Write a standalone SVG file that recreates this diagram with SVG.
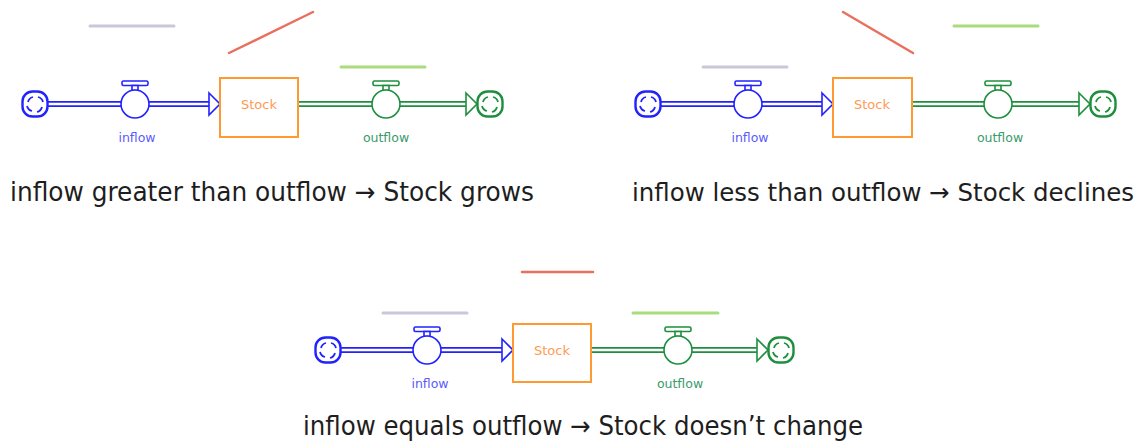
<svg xmlns="http://www.w3.org/2000/svg" xmlns:xlink="http://www.w3.org/1999/xlink" width="1147" height="441" viewBox="0 0 1147 441">
<style>
.bl{stroke:#2222ff;fill:#fff;stroke-width:1.6}
.gr{stroke:#1f8f3f;fill:#fff;stroke-width:1.6}
.pipeB{stroke:#2222ff;stroke-width:6;fill:none}
.pipeG{stroke:#1f8f3f;stroke-width:6;fill:none}
.pipeIn{stroke:#fff;stroke-width:2.4;fill:none}
.stock{fill:#fff;stroke:#ff9a30;stroke-width:2}
.stxt{font-family:"DejaVu Sans",sans-serif;font-size:13px;fill:#ff9a55;text-anchor:middle}
.lin{font-family:"DejaVu Sans",sans-serif;font-size:12.5px;fill:#5a5aff;text-anchor:middle}
.lout{font-family:"DejaVu Sans",sans-serif;font-size:12.5px;fill:#3a9a6a;text-anchor:middle}
.cap{font-family:"DejaVu Sans",sans-serif;font-size:26px;fill:#1e1e1e}
.gray{stroke:#c8c8da;stroke-width:3;stroke-linecap:round}
.red{stroke:#e8705e;stroke-width:2.5;stroke-linecap:round}
.green{stroke:#a8dc7c;stroke-width:3;stroke-linecap:round}
</style>
<defs>
<g id="cloud">
<rect x="-12.5" y="-12.5" width="25" height="25" rx="10" stroke-width="2.4"/>
<path d="M-7,-2 q1,-4 5,-5 M3,-7 q4,1 5,5 M7,3 q-1,4 -5,5 M-3,7 q-4,-1 -5,-5" fill="none" stroke-width="1.8"/>
</g>
<g id="valve">
<rect x="-13" y="-23" width="26" height="4.5" rx="1.5"/>
<rect x="-3" y="-18.5" width="6" height="5"/>
<circle r="14"/>
</g>
</defs>

<!-- Panel 1 -->
<g id="connectors-1">
<path class="pipeB" d="M47,104 H210"/>
<path class="pipeIn" d="M47,104 H212"/>
<path class="bl" d="M209,93 L220,104 L209,115 Z"/>
<path class="pipeG" d="M298,104 H467"/>
<path class="pipeIn" d="M298,104 H469"/>
<path class="gr" d="M466,93 L477,104 L466,115 Z"/>
<line class="gray" x1="90" y1="26" x2="174" y2="26"/>
<line class="red" x1="229" y1="53" x2="313" y2="12"/>
<line class="green" x1="341" y1="67" x2="425" y2="67"/>
</g>
<g id="source-1" class="bl"><use xlink:href="#cloud" x="35" y="104"/></g>
<g id="inflow-1"><g class="bl"><use xlink:href="#valve" x="135" y="104"/></g><text class="lin" x="137" y="142">inflow</text></g>
<g id="stock-1"><rect class="stock" x="220" y="78" width="78" height="59"/><text class="stxt" x="259" y="109">Stock</text></g>
<g id="outflow-1"><g class="gr"><use xlink:href="#valve" x="386" y="104"/></g><text class="lout" x="386" y="142">outflow</text></g>
<g id="sink-1" class="gr"><use xlink:href="#cloud" x="490" y="104"/></g>
<text id="caption-1" class="cap" x="10" y="201" textLength="524" lengthAdjust="spacingAndGlyphs">inflow greater than outflow → Stock grows</text>

<!-- Panel 2 -->
<g id="connectors-2">
<path class="pipeB" d="M660,104 H823"/>
<path class="pipeIn" d="M660,104 H825"/>
<path class="bl" d="M822,93 L833,104 L822,115 Z"/>
<path class="pipeG" d="M912,104 H1080"/>
<path class="pipeIn" d="M912,104 H1082"/>
<path class="gr" d="M1079,93 L1090,104 L1079,115 Z"/>
<line class="gray" x1="703" y1="67" x2="787" y2="67"/>
<line class="red" x1="843" y1="12" x2="913" y2="53"/>
<line class="green" x1="954" y1="26" x2="1038" y2="26"/>
</g>
<g id="source-2" class="bl"><use xlink:href="#cloud" x="648" y="104"/></g>
<g id="inflow-2"><g class="bl"><use xlink:href="#valve" x="748" y="104"/></g><text class="lin" x="750" y="142">inflow</text></g>
<g id="stock-2"><rect class="stock" x="833" y="78" width="79" height="59"/><text class="stxt" x="872" y="109">Stock</text></g>
<g id="outflow-2"><g class="gr"><use xlink:href="#valve" x="998" y="104"/></g><text class="lout" x="1000" y="142">outflow</text></g>
<g id="sink-2" class="gr"><use xlink:href="#cloud" x="1103" y="104"/></g>
<text id="caption-2" class="cap" x="632" y="201" font-size="24.5" style="font-size:24.5px" textLength="502" lengthAdjust="spacingAndGlyphs">inflow less than outflow → Stock declines</text>

<!-- Panel 3 -->
<g id="connectors-3">
<path class="pipeB" d="M340,350 H503"/>
<path class="pipeIn" d="M340,350 H505"/>
<path class="bl" d="M502,339 L513,350 L502,361 Z"/>
<path class="pipeG" d="M591,350 H758"/>
<path class="pipeIn" d="M591,350 H760"/>
<path class="gr" d="M757,339 L768,350 L757,361 Z"/>
<line class="gray" x1="383" y1="313" x2="467" y2="313"/>
<line class="red" x1="522" y1="272" x2="593" y2="272"/>
<line class="green" x1="633" y1="313" x2="718" y2="313"/>
</g>
<g id="source-3" class="bl"><use xlink:href="#cloud" x="328" y="350"/></g>
<g id="inflow-3"><g class="bl"><use xlink:href="#valve" x="427" y="350"/></g><text class="lin" x="430" y="388">inflow</text></g>
<g id="stock-3"><rect class="stock" x="513" y="324" width="78" height="58"/><text class="stxt" x="552" y="355">Stock</text></g>
<g id="outflow-3"><g class="gr"><use xlink:href="#valve" x="678" y="350"/></g><text class="lout" x="680" y="388">outflow</text></g>
<g id="sink-3" class="gr"><use xlink:href="#cloud" x="781" y="350"/></g>
<text id="caption-3" class="cap" x="303" y="435" textLength="560" lengthAdjust="spacingAndGlyphs">inflow equals outflow → Stock doesn’t change</text>
</svg>
